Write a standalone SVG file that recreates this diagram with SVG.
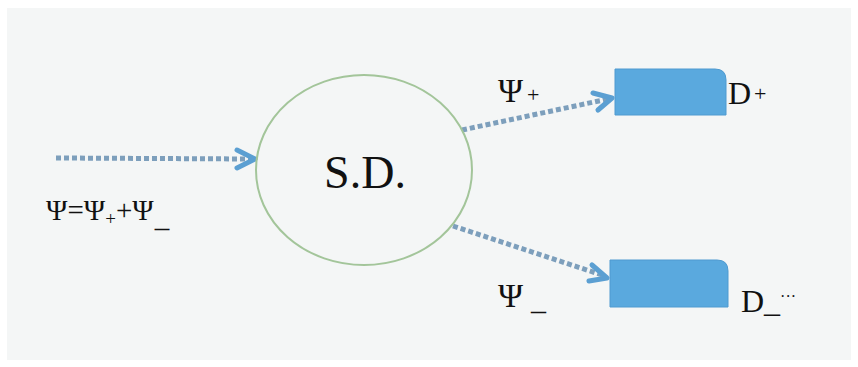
<svg xmlns="http://www.w3.org/2000/svg" width="858" height="367" viewBox="0 0 858 367">
<style>
.flow{fill:none;stroke:#7d9fbc;stroke-width:5;stroke-dasharray:5 3}
.head{fill:none;stroke:#5b9fd2;stroke-width:5;stroke-linecap:round;stroke-linejoin:round}
.box{fill:#5aa9de;stroke:#4e9ad0;stroke-width:1}
.t{font-family:"Liberation Serif","Times New Roman",serif;fill:#111111}
</style>
<rect x="0" y="0" width="858" height="367" fill="#ffffff"/>
<rect x="7" y="8" width="844" height="352" fill="#f4f6f6"/>
<g id="connectors">
<line class="flow" x1="56" y1="158" x2="250" y2="159"/>
<polyline class="head" points="237,150 255,159 237,168"/>
<line class="flow" x1="462" y1="130" x2="608" y2="99"/>
<polyline class="head" points="593,93 612,98 598,110"/>
<line class="flow" x1="453" y1="226" x2="602" y2="275"/>
<polyline class="head" points="592,265 607,278 589,281"/>
</g>
<g id="sd">
<ellipse cx="364" cy="170" rx="108" ry="95" fill="none" stroke="#a3c59a" stroke-width="2"/>
<text class="t" x="365" y="188" font-size="46" text-anchor="middle">S.D.</text>
</g>
<g id="dplus">
<path class="box" d="M615,69 H715 Q726,69 726,80 V115 H615 Z"/>
<text class="t" x="728" y="104" font-size="32">D<tspan font-size="22" dx="3" dy="-3">+</tspan></text>
</g>
<g id="dminus">
<path class="box" d="M610,260 H717 Q728,260 728,271 V307 H610 Z"/>
<text class="t" x="741" y="312" font-size="32">D_<tspan font-size="16" dy="-10">···</tspan></text>
</g>
<g id="labels">
<text class="t" x="498" y="102" font-size="34">Ψ<tspan font-size="22" dx="4" dy="0">+</tspan></text>
<text class="t" x="498" y="307" font-size="34">Ψ<tspan dx="8" dy="3" font-size="30">_</tspan></text>
<text class="t" x="46" y="220" font-size="29">Ψ=Ψ<tspan font-size="19" dy="5">+</tspan><tspan dy="-5">+Ψ</tspan><tspan dx="1" dy="7">_</tspan></text>
</g>
</svg>
